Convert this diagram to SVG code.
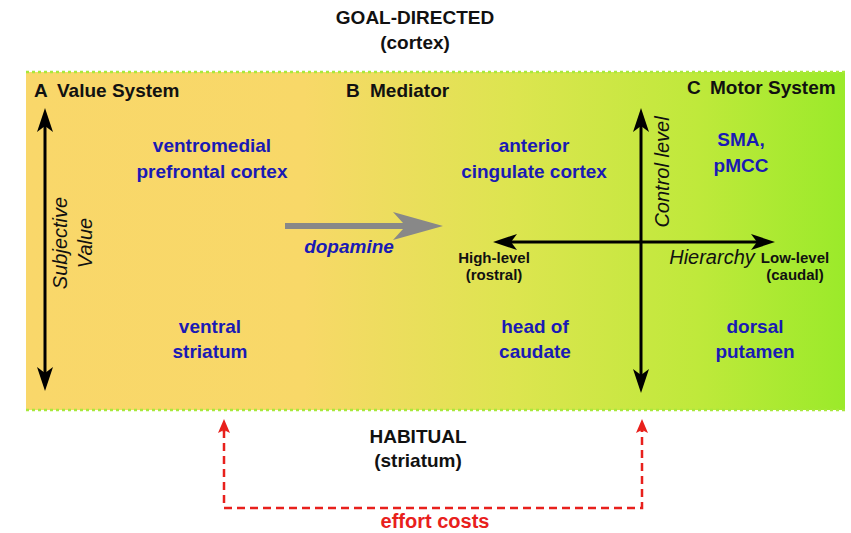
<svg xmlns="http://www.w3.org/2000/svg" width="851" height="533" viewBox="0 0 851 533">
<defs>
<linearGradient id="bg" x1="26" y1="0" x2="845" y2="0" gradientUnits="userSpaceOnUse">
<stop offset="0" stop-color="#f9d76a"/>
<stop offset="0.34" stop-color="#f8d868"/>
<stop offset="0.6" stop-color="#dce54f"/>
<stop offset="0.82" stop-color="#bfe93b"/>
<stop offset="1" stop-color="#9bea2a"/>
</linearGradient>
<marker id="ah" viewBox="0 0 24 16" markerWidth="24" markerHeight="16" refX="6" refY="8" orient="auto-start-reverse" markerUnits="userSpaceOnUse">
<path d="M0,0 L24,8 L0,16 L6,8 Z" fill="#000"/>
</marker>
<marker id="rh" viewBox="0 0 14 12" markerWidth="14" markerHeight="12" refX="3" refY="6" orient="auto" markerUnits="userSpaceOnUse">
<path d="M0,0 L14,6 L0,12 L3,6 Z" fill="#e8201c"/>
</marker>
<style>
text{font-family:"Liberation Sans",Arial,sans-serif;}
.hd{font-size:19px;font-weight:bold;fill:#111;text-anchor:middle;}
.sec{font-size:19px;font-weight:bold;fill:#111;}
.reg{font-size:19px;font-weight:bold;fill:#1a1ab4;text-anchor:middle;}
.ax{font-size:20px;font-style:italic;fill:#111;text-anchor:middle;}
.lv{font-size:15px;font-weight:bold;fill:#111;text-anchor:middle;}
.axis{stroke:#000;stroke-width:3;fill:none;}
.red{stroke:#e8201c;stroke-width:2.5;stroke-dasharray:8,5;fill:none;}
</style>
</defs>

<g id="panel">
<rect x="26" y="72" width="819" height="338" fill="url(#bg)"/>
<line x1="26" y1="72" x2="845" y2="72" stroke="#a8e83c" stroke-width="2.5" stroke-dasharray="3,3"/>
<line x1="26" y1="410" x2="845" y2="410" stroke="#a8e83c" stroke-width="2.5" stroke-dasharray="3,3"/>
</g>

<g id="goal-directed">
<text class="hd" x="415" y="24">GOAL-DIRECTED</text>
<text class="hd" x="415" y="49">(cortex)</text>
</g>
<g id="habitual">
<text class="hd" x="418" y="443">HABITUAL</text>
<text class="hd" x="418" y="467">(striatum)</text>
</g>

<g id="sectionA"><text class="sec" x="34" y="97">A</text><text class="sec" x="57" y="97">Value System</text></g>
<g id="sectionB"><text class="sec" x="346" y="97">B</text><text class="sec" x="370" y="97">Mediator</text></g>
<g id="sectionC"><text class="sec" x="687" y="94">C</text><text class="sec" x="710" y="94">Motor System</text></g>

<g id="vmpfc"><text class="reg" x="212" y="152">ventromedial</text><text class="reg" x="212" y="178">prefrontal cortex</text></g>
<g id="acc"><text class="reg" x="534" y="152">anterior</text><text class="reg" x="534" y="178">cingulate cortex</text></g>
<g id="sma"><text class="reg" x="741" y="146">SMA,</text><text class="reg" x="741" y="172">pMCC</text></g>
<g id="vstriatum"><text class="reg" x="210" y="333">ventral</text><text class="reg" x="210" y="358">striatum</text></g>
<g id="caudate"><text class="reg" x="535" y="333">head of</text><text class="reg" x="535" y="358">caudate</text></g>
<g id="putamen"><text class="reg" x="755" y="333">dorsal</text><text class="reg" x="755" y="358">putamen</text></g>

<g id="subjective-value">
<text class="ax" transform="translate(67,243) rotate(-90)">Subjective</text>
<text class="ax" transform="translate(92,243) rotate(-90)">Value</text>
</g>
<g id="control-level"><text class="ax" transform="translate(669,172) rotate(-90)">Control level</text></g>
<g id="hierarchy"><text class="ax" x="712" y="264">Hierarchy</text></g>
<g id="high-level"><text class="lv" x="494" y="263">High-level</text><text class="lv" x="494" y="280">(rostral)</text></g>
<g id="low-level"><text class="lv" x="795" y="263">Low-level</text><text class="lv" x="795" y="280">(caudal)</text></g>

<g id="connectors">
<line class="axis" x1="45" y1="126" x2="45" y2="373" marker-start="url(#ah)" marker-end="url(#ah)"/>
<line class="axis" x1="641" y1="126" x2="641" y2="375" marker-start="url(#ah)" marker-end="url(#ah)"/>
<line class="axis" x1="511" y1="242" x2="757" y2="242" marker-start="url(#ah)" marker-end="url(#ah)"/>
<polygon points="285,223 403,223 393,212 443,226 393,240 403,229 285,229" fill="#888"/>
<path class="red" d="M224,430 L224,508 L642,508 L642,430"/>
<line x1="224" y1="432" x2="224" y2="430" stroke="#e8201c" stroke-width="2.5" marker-end="url(#rh)"/>
<line x1="642" y1="432" x2="642" y2="430" stroke="#e8201c" stroke-width="2.5" marker-end="url(#rh)"/>
</g>

<g id="dopamine"><text x="349" y="253" font-size="19" font-weight="bold" font-style="italic" fill="#1a1ab4" text-anchor="middle">dopamine</text></g>
<g id="effort-costs"><text x="435" y="528" font-size="20" font-weight="bold" fill="#e8201c" text-anchor="middle">effort costs</text></g>
</svg>
